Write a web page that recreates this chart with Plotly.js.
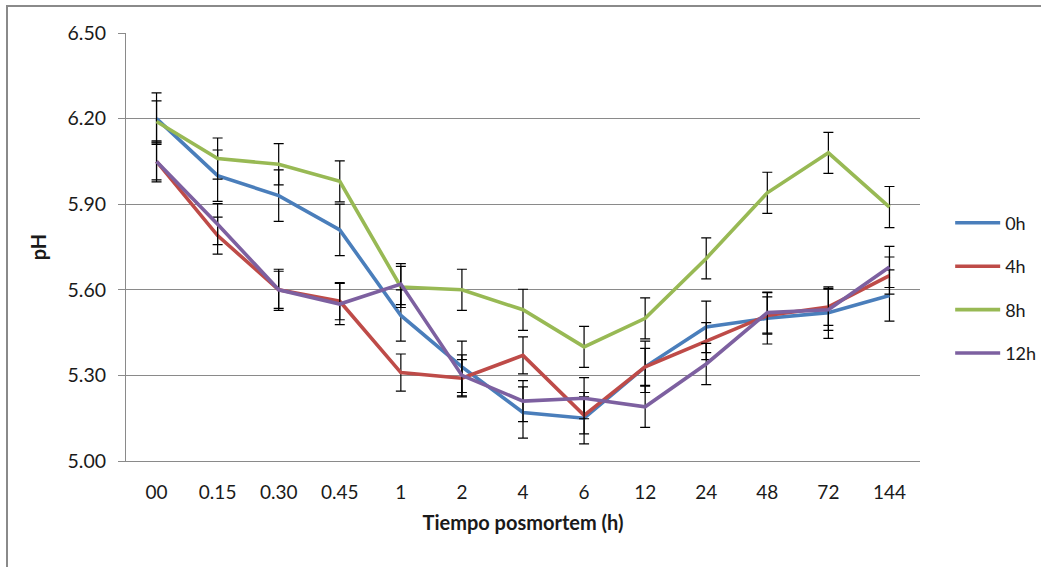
<!DOCTYPE html>
<html>
<head>
<meta charset="utf-8">
<script src="https://cdn.plot.ly/plotly-3.0.1.min.js"></script>
<style>
  html, body { margin: 0; padding: 0; background: #fff; overflow: hidden; }
  #frame { position: absolute; left: 6px; top: 5px; width: 1100px; height: 700px;
           border-top: 2px solid #8a8a8a; border-left: 2px solid #8a8a8a; pointer-events: none; z-index: 5; }
  #chart { position: absolute; left: 0; top: 0; width: 1041px; height: 567px; }
</style>
</head>
<body>
<div id="chart"></div>
<div id="frame"></div>
<script>
const categories = ['00', '0.15', '0.30', '0.45', '1', '2', '4', '6', '12', '24', '48', '72', '144'];
const seriesNames = ['0h', '4h', '8h', '12h'];

const ph0h  = [6.20, 6.00, 5.93, 5.81, 5.51, 5.33, 5.17, 5.15, 5.33, 5.47, 5.50, 5.52, 5.58];
const ph4h  = [6.05, 5.79, 5.60, 5.56, 5.31, 5.29, 5.37, 5.16, 5.33, 5.42, 5.51, 5.54, 5.65];
const ph8h  = [6.19, 6.06, 6.04, 5.98, 5.61, 5.60, 5.53, 5.40, 5.50, 5.71, 5.94, 6.08, 5.89];
const ph12h = [6.05, 5.83, 5.60, 5.55, 5.62, 5.30, 5.21, 5.22, 5.19, 5.34, 5.52, 5.53, 5.68];

const err0h  = [0.09, 0.09, 0.09, 0.09, 0.09, 0.09, 0.09, 0.09, 0.09, 0.09, 0.09, 0.09, 0.09];
const err4h  = [0.065, 0.065, 0.065, 0.065, 0.065, 0.065, 0.065, 0.065, 0.065, 0.065, 0.065, 0.065, 0.065];
const err8h  = [0.072, 0.072, 0.072, 0.072, 0.072, 0.072, 0.072, 0.072, 0.072, 0.072, 0.072, 0.072, 0.072];
const err12h = [0.072, 0.072, 0.072, 0.072, 0.072, 0.072, 0.072, 0.072, 0.072, 0.072, 0.072, 0.072, 0.072];

const yTicks = [5.00, 5.30, 5.60, 5.90, 6.20, 6.50];

const colors = ['#4A7EBB', '#BE4B48', '#98B954', '#7D60A0'];
const values = [ph0h, ph4h, ph8h, ph12h];
const errors = [err0h, err4h, err8h, err12h];

const FONT = 'Lato, Carlito, Calibri, sans-serif';

const traces = values.map((v, i) => ({
  type: 'scatter',
  mode: 'lines',
  name: seriesNames[i],
  legendgroup: 'g' + i,
  x: categories,
  y: v,
  line: { color: colors[i], width: 3.6 },
  error_y: { type: 'data', array: errors[i], visible: true, color: '#000000', thickness: 1.2, width: 5 }
}));

const layout = {
  width: 1041,
  height: 567,
  margin: { l: 126, r: 121, t: 33, b: 106, autoexpand: false },
  paper_bgcolor: '#ffffff',
  plot_bgcolor: '#ffffff',
  font: { family: FONT, color: '#1a1a1a', size: 19 },
  showlegend: true,
  legend: {
    x: 1.038, xanchor: 'left', y: 0.404, yanchor: 'middle',
    font: { family: FONT, size: 18, color: '#1a1a1a' },
    tracegroupgap: 17,
    itemwidth: 45,
    bgcolor: 'rgba(0,0,0,0)'
  },
  xaxis: {
    type: 'category',
    range: [-0.5, 12.5],
    showgrid: false,
    showline: true,
    linecolor: '#8a8a8a',
    linewidth: 1,
    ticks: '',
    ticklabelstandoff: 14,
    tickfont: { family: FONT, size: 19, color: '#1a1a1a' },
    title: { text: '<b>Tiempo posmortem (h)</b>', font: { family: FONT, size: 20, color: '#1a1a1a' }, standoff: 14 },
    zeroline: false,
    fixedrange: true
  },
  yaxis: {
    range: [5.0, 6.5],
    tickmode: 'array',
    tickvals: yTicks,
    ticktext: yTicks.map(t => t.toFixed(2)),
    showgrid: true,
    gridcolor: '#8a8a8a',
    gridwidth: 1,
    showline: true,
    linecolor: '#8a8a8a',
    linewidth: 1,
    ticks: 'outside',
    ticklen: 7,
    tickcolor: '#8a8a8a',
    ticklabelstandoff: 8,
    tickfont: { family: FONT, size: 19.5, color: '#1a1a1a' },
    title: { text: '<b>pH</b>', font: { family: FONT, size: 20, color: '#1a1a1a' }, standoff: 15 },
    zeroline: false,
    fixedrange: true
  }
};

Plotly.newPlot('chart', traces, layout, { displayModeBar: false, staticPlot: true });
</script>
</body>
</html>
